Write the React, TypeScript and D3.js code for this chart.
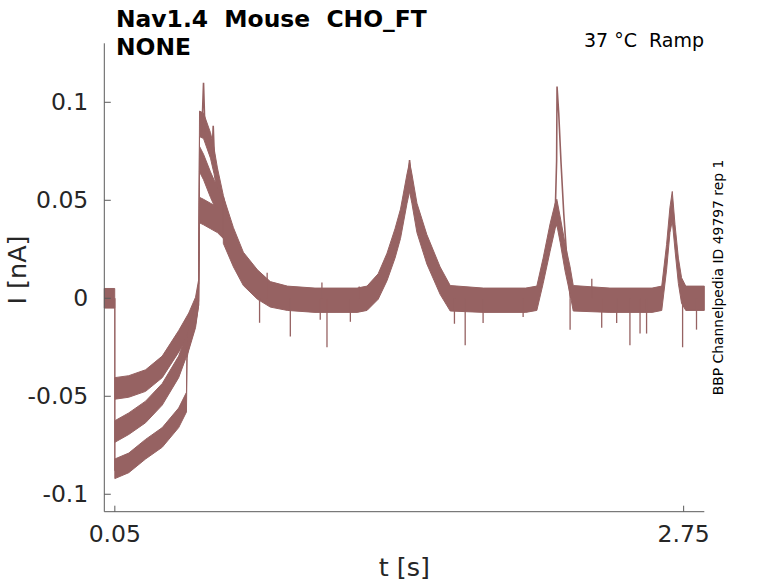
import React from 'react';
import * as d3 from 'd3';

// ---------- data ----------
const xTicks = [0.05, 2.75];
const xTickLabels = ['0.05', '2.75'];
const yTicks = [-0.1, -0.05, 0, 0.05, 0.1];
const yTickLabels = ['-0.1', '-0.05', '0', '0.05', '0.1'];

// holding current before the ramp (all sweeps)
const baseT = [0, 0.0495];
const baseI = [0, 0];
const baseH = [0.005, 0.005];

// sweep A (upper during ramp, highest after the jump)
const aT = [0.05, 0.116, 0.196, 0.275, 0.353, 0.401, 0.433, 0.448, 0.452, 0.471, 0.504, 0.521, 0.537, 0.565, 0.59];
const aI = [-0.046, -0.045, -0.042, -0.035, -0.022, -0.013, -0.005, 0.004, 0.089, 0.088, 0.078, 0.07, 0.06, 0.046, 0.034];
const aH = [0.0055, 0.0055, 0.0055, 0.0055, 0.0055, 0.0055, 0.0055, 0.0055, 0.0065, 0.0065, 0.0065, 0.0065, 0.0065, 0.0065, 0.0065];

// sweep B
const bT = [0.05, 0.116, 0.196, 0.275, 0.353, 0.401, 0.433, 0.448, 0.452, 0.471, 0.504, 0.537, 0.565, 0.59];
const bI = [-0.068, -0.064, -0.058, -0.049, -0.035, -0.021, -0.0095, 0.002, 0.071, 0.067, 0.058, 0.05, 0.042, 0.034];
const bH = [0.0055, 0.0055, 0.0055, 0.0055, 0.0055, 0.0055, 0.0055, 0.0055, 0.0065, 0.0065, 0.0065, 0.0065, 0.0065, 0.0065];

// sweep C (lowest during ramp)
const cT = [0.05, 0.116, 0.196, 0.275, 0.353, 0.39, 0.393, 0.401, 0.433, 0.448, 0.452, 0.471, 0.504, 0.537, 0.565, 0.59];
const cI = [-0.087, -0.084, -0.077, -0.071, -0.061, -0.053, -0.025, -0.02, -0.008, 0.002, 0.045, 0.044, 0.042, 0.04, 0.037, 0.032];
const cH = [0.005, 0.005, 0.005, 0.005, 0.005, 0.005, 0.0055, 0.0055, 0.0055, 0.0055, 0.0065, 0.0065, 0.0065, 0.0065, 0.0065, 0.0065];

// overlapping sweeps from the first decay to the end
const tailT = [0.565, 0.613, 0.66, 0.727, 0.788, 0.869, 1.0, 1.1, 1.2, 1.247, 1.3, 1.342, 1.38, 1.406, 1.437, 1.449, 1.46, 1.484, 1.531, 1.594, 1.642, 1.8, 2.0, 2.053, 2.083, 2.116, 2.14, 2.148, 2.164, 2.187, 2.211, 2.226, 2.4, 2.6, 2.646, 2.669, 2.685, 2.696, 2.709, 2.725, 2.74, 2.76, 2.848];
const tailI = [0.04, 0.026, 0.015, 0.007, 0.002, 0, -0.001, -0.001, -0.001, 0, 0.006, 0.016, 0.028, 0.038, 0.056, 0.062, 0.056, 0.041, 0.025, 0.009, 0, -0.001, -0.001, 0, 0.014, 0.031, 0.042, 0.044, 0.035, 0.021, 0.009, 0, -0.001, -0.001, 0, 0.021, 0.04, 0.047, 0.031, 0.014, 0.004, 0, 0];
const tailH = [0.012, 0.01, 0.0085, 0.0075, 0.0065, 0.0062, 0.0062, 0.0062, 0.0062, 0.0062, 0.0065, 0.007, 0.0075, 0.0075, 0.0075, 0.0075, 0.0075, 0.0075, 0.0075, 0.007, 0.0065, 0.0062, 0.0062, 0.0062, 0.0065, 0.007, 0.0065, 0.0065, 0.0065, 0.007, 0.007, 0.0065, 0.0062, 0.0062, 0.0062, 0.0065, 0.0065, 0.0075, 0.0065, 0.0065, 0.0065, 0.0062, 0.0062];

// single-sweep tips
const tip1T = [0.463, 0.471, 0.478];
const tip1I = [0.085, 0.11, 0.085];
const tip2T = [0.511, 0.517, 0.523];
const tip2I = [0.072, 0.088, 0.07];
const tip3T = [1.438, 1.449, 1.46];
const tip3I = [0.056, 0.0705, 0.056];
const tallT = [2.14, 2.147, 2.149, 2.157, 2.168, 2.181, 2.197, 2.212];
const tallI = [0.042, 0.07, 0.108, 0.0945, 0.069, 0.043, 0.018, 0.0];

// isolated glitches on the baseline
const glitchT = [0.737, 0.773, 0.883, 1.025, 1.033, 1.057, 1.168, 1.21, 1.662, 1.713, 1.798, 1.988, 2.211, 2.314, 2.361, 2.432, 2.495, 2.543, 2.574, 2.745, 2.811];
const glitchI = [-0.0125, 0.013, -0.0195, -0.011, 0.008, -0.025, -0.012, 0.006, -0.013, -0.024, -0.0126, -0.0095, -0.016, 0.01, -0.015, -0.0126, -0.024, -0.018, -0.018, -0.025, -0.016];

const TRACE = '#966262';
const AXIS = '#5a5a5a';
const TEXT = '#262626';

type Pt = { t: number; i: number; h: number };

export default function App() {
  const W = 778, H = 583;
  const left = 104.3, right = 704.3, top = 43.3, bottom = 511.7;
  const x = d3.scaleLinear().domain([0, 2.848]).range([left, right]);
  const y = d3.scaleLinear().domain([-0.1089, 0.1301]).range([bottom, top]);

  const band = d3.area<Pt>()
    .x(d => x(d.t))
    .y0(d => y(d.i - d.h))
    .y1(d => y(d.i + d.h));
  const line = d3.line<[number, number]>().x(d => x(d[0])).y(d => y(d[1]));

  const mk = (t: number[], i: number[], h: number[]): Pt[] => t.map((tt, k) => ({ t: tt, i: i[k], h: h[k] }));
  const bands = [
    mk(baseT, baseI, baseH),
    mk(aT, aI, aH),
    mk(bT, bI, bH),
    mk(cT, cI, cH),
    mk(tailT, tailI, tailH),
  ];
  const tips = [
    [tip1T, tip1I],
    [tip2T, tip2I],
    [tip3T, tip3I],
    [tallT, tallI],
  ].map(([t, i]) => t.map((tt, k) => [tt, i[k]] as [number, number]));

  const stepLine = line([[0.05, 0], [0.05, -0.088]]);

  return (
    <svg width={W} height={H} style={{ position: 'absolute', left: 0, top: 0, background: '#fff' }}
      fontFamily="DejaVu Sans, sans-serif">
      {/* traces */}
      <g>
        {bands.map((b, k) => (
          <path key={k} d={band(b) || ''} fill={TRACE} stroke={TRACE} strokeWidth={1} strokeLinejoin="round" />
        ))}
        <path d={stepLine || ''} stroke={TRACE} strokeWidth={1.5} fill="none" />
        {tips.map((p, k) => (
          <path key={k} d={line(p) || ''} stroke={TRACE} strokeWidth={1.6} fill="none" />
        ))}
        {glitchT.map((t, k) => (
          <line key={k} x1={x(t)} x2={x(t)} y1={y(0)} y2={y(glitchI[k])} stroke={TRACE} strokeWidth={1.3} />
        ))}
      </g>

      {/* axes */}
      <line x1={left} x2={left} y1={top} y2={bottom} stroke={AXIS} strokeWidth={1} />
      <line x1={left} x2={right} y1={bottom} y2={bottom} stroke={AXIS} strokeWidth={1} />
      {yTicks.map((v, k) => (
        <g key={k}>
          <line x1={left} x2={left + 6.5} y1={y(v)} y2={y(v)} stroke={AXIS} strokeWidth={1} />
          <text x={left - 16} y={y(v)} dy="0.32em" textAnchor="end" fontSize={23.5} fill={TEXT}>{yTickLabels[k]}</text>
        </g>
      ))}
      {xTicks.map((v, k) => (
        <g key={k}>
          <line x1={x(v)} x2={x(v)} y1={bottom} y2={bottom - 6} stroke={AXIS} strokeWidth={1} />
          <text x={x(v)} y={541.5} textAnchor="middle" fontSize={23.5} fill={TEXT}>{xTickLabels[k]}</text>
        </g>
      ))}

      {/* axis labels */}
      <text x={(left + right) / 2} y={576} textAnchor="middle" fontSize={25.5} fill={TEXT}>t [s]</text>
      <text transform={`translate(26,270) rotate(-90)`} textAnchor="middle" fontSize={25.5} fill={TEXT}>I [nA]</text>

      {/* titles */}
      <text x={116} y={27} fontSize={23.4} fontWeight="bold" fill="#000" style={{ whiteSpace: 'pre' }}>{'Nav1.4  Mouse  CHO_FT'}</text>
      <text x={116} y={55} fontSize={23.4} fontWeight="bold" fill="#000">NONE</text>
      <text x={704} y={47} textAnchor="end" fontSize={19} fill="#000" style={{ whiteSpace: 'pre' }}>{'37 °C  Ramp'}</text>
      <text transform={`translate(723,277.5) rotate(-90)`} textAnchor="middle" fontSize={13.9} fill="#000">BBP Channelpedia ID 49797 rep 1</text>
    </svg>
  );
}
